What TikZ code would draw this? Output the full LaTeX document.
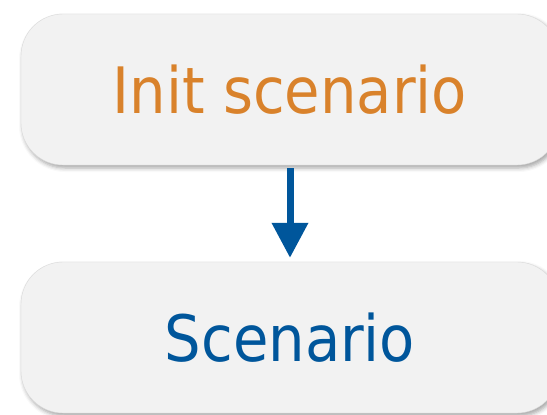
\documentclass[tikz,border=0pt]{standalone}
\usepackage{fontspec}
\setmainfont{DejaVu Sans Condensed}
\usetikzlibrary{arrows.meta,shadows.blur}
\definecolor{boxgray}{HTML}{F2F2F2}
\definecolor{initorange}{HTML}{D9822B}
\definecolor{scenblue}{HTML}{00569B}
\begin{document}
\begin{tikzpicture}[x=1pt,y=-1pt, stepbox/.style={draw=black!15, fill=boxgray,
		rounded corners=42pt, minimum width=538pt, minimum height=151pt,
		font=\fontsize{64}{70}\selectfont, blur shadow={shadow xshift=2pt,
		shadow yshift=-3pt, shadow blur radius=4pt, shadow opacity=35}}]
	\clip (0,0) rectangle (547,415);
	\node [stepbox, text=initorange] (init) at (290,89.5) {Init scenario};
	\node [stepbox, text=scenblue] (scen) at (290,337.5) {Scenario};
	\draw [scenblue, line width=7pt, -{Triangle[length=35pt,width=35pt]}] ([yshift=-3pt]init.south) -- ([yshift=4pt]scen.north);
	\end{tikzpicture}
\end{document}
